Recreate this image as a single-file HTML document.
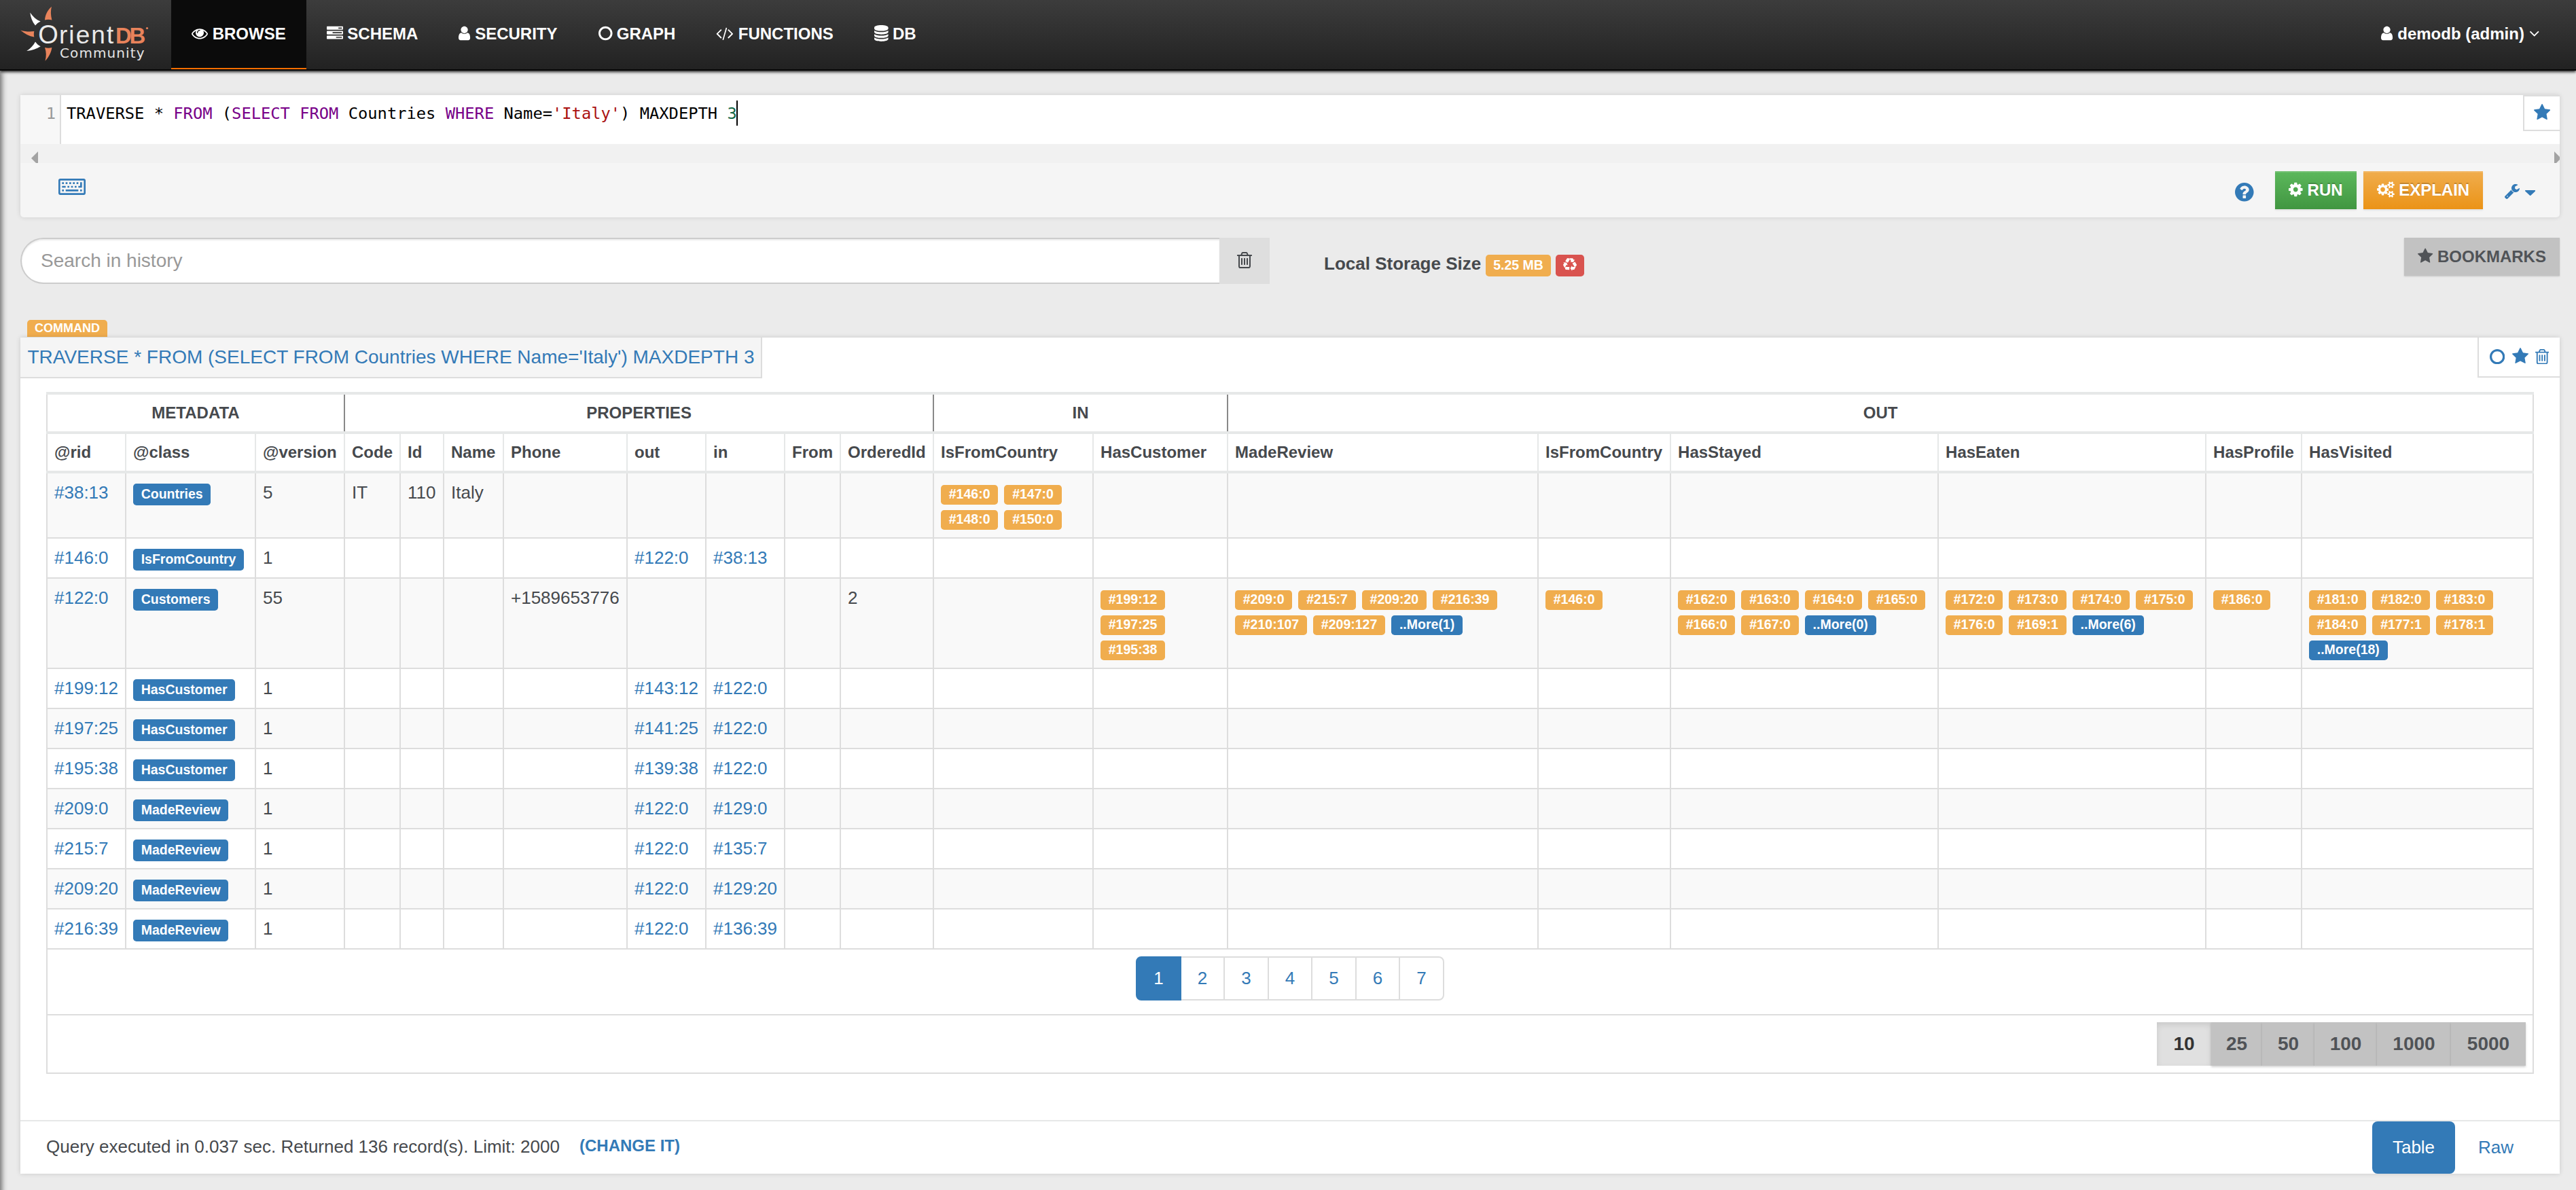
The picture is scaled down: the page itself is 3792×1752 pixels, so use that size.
<!DOCTYPE html>
<html lang="en">
<head>
<meta charset="utf-8">
<title>OrientDB Studio</title>
<style>
*{box-sizing:border-box}
html,body{margin:0;padding:0}
body{width:3792px;height:1752px;overflow:hidden;background:#ebebeb;color:#46494d;
 font-family:"Liberation Sans",sans-serif;font-size:26px;line-height:1.42857143;position:relative}
a{color:#337ab7;text-decoration:none}
.fa{display:inline-block;height:1em;vertical-align:-0.142857em;fill:currentColor;overflow:visible}
.abs{position:absolute}
/* ---------- navbar ---------- */
#nav{position:absolute;left:0;top:0;width:3792px;height:104px;border-bottom:2px solid #080808;
 background:linear-gradient(to bottom,#3c3c3c 0,#222 100%);box-shadow:0 2px 4px rgba(0,0,0,.85);z-index:10}
#nav ul{list-style:none;margin:0;padding:0;position:absolute;top:0;height:102px}
#nav ul.l{left:252px}
#nav ul.r{right:24px}
#nav li{float:left;height:102px}
#nav li a{display:block;height:102px;padding:30px 30px 0 30px;line-height:40px;font-size:24px;font-weight:bold;color:#fff;white-space:nowrap}
#nav li.active a{background:#0b0b0b;border-bottom:2px solid #ff6f00}
#logo{position:absolute;left:0;top:0;width:252px;height:100px}
#logo .t0{position:absolute;left:56.2px;top:25.7px;font-size:38px;line-height:50px;color:#ececec}
#logo .t1{position:absolute;left:87px;top:26.5px;font-size:37px;line-height:50px;color:#e9e9e9;letter-spacing:2.05px;white-space:nowrap}
#logo .t2{position:absolute;left:170px;top:27.8px;font-size:33px;line-height:50px;font-weight:bold;color:#e8835b;letter-spacing:-3.4px;white-space:nowrap}
#logo .t3{position:absolute;left:88px;top:62.8px;font-family:"DejaVu Sans","Liberation Sans",sans-serif;font-size:20px;line-height:30px;color:#e4e4e4;letter-spacing:1.1px;white-space:nowrap}
#lsh{position:absolute;left:-20px;top:106px;width:20px;height:1700px;box-shadow:0 0 8px 2px rgba(0,0,0,.62);z-index:5}
/* ---------- editor ---------- */
#ed{position:absolute;left:30px;top:140px;width:3738px;height:180px;background:#f5f5f5;border-radius:0 0 5px 5px;
 box-shadow:0 0 7px rgba(0,0,0,.13)}
#cm{position:absolute;left:0;top:0;width:3738px;height:72px;background:#fff}
#gut{position:absolute;left:0;top:0;width:60px;height:72px;background:#f7f7f7;border-right:2px solid #ddd}
#ln{position:absolute;left:0;top:9px;width:52px;text-align:right;color:#999}
.mono{font-family:"DejaVu Sans Mono","Liberation Mono",monospace;font-size:23.75px;line-height:37px;white-space:pre}
#code{position:absolute;left:68px;top:9px;color:#000}
.k{color:#708}.s{color:#a11}.n{color:#164}
#cur{position:absolute;left:1054px;top:8px;width:2px;height:37px;background:#000}
#hs{position:absolute;left:0;top:72px;width:3738px;height:28px;background:#f1f1f1;overflow:hidden}
#hs i{position:absolute;top:11px;width:0;height:0;border:10px solid transparent}
#star{position:absolute;left:3684px;top:0;width:54px;height:53px;background:#fff;border-left:2px solid #ddd;border-bottom:2px solid #ddd;border-top:2px solid #ddd}
.btn{position:absolute;top:112px;height:56px;line-height:56px;color:#fff;font-size:24px;font-weight:bold;text-align:center;white-space:nowrap;
 text-shadow:0 -2px 0 rgba(0,0,0,.2);box-shadow:inset 0 2px 0 rgba(255,255,255,.15),0 2px 2px rgba(0,0,0,.075);border:0}
#run{left:3319px;width:120px;background:linear-gradient(to bottom,#5cb85c 0,#419641 100%)}
#exp{left:3449px;width:176px;background:linear-gradient(to bottom,#f0ad4e 0,#eb9316 100%)}
/* ---------- search row ---------- */
#srch{position:absolute;left:30px;top:350px;width:1765px;height:68px;background:#fff;border:2px solid #ccc;border-right:0;border-radius:34px 0 0 34px;
 box-shadow:inset 0 2px 2px rgba(0,0,0,.075);font-size:28px;line-height:64px;padding-left:28px;color:#999}
#sadd{position:absolute;left:1795px;top:350px;width:74px;height:68px;background:#dedede}
#lss{position:absolute;left:1949px;top:368px;font-weight:bold;line-height:40px;white-space:nowrap;color:#46494d}
.lab{display:inline-block;font-size:19.5px;line-height:1;font-weight:bold;color:#fff;padding:.2em .6em .3em;border-radius:.25em;white-space:nowrap;vertical-align:baseline;text-align:center}
.lw{background:#f0ad4e}.lp{background:#337ab7}.ld{background:#d9534f}
#bm{position:absolute;left:3539px;top:350px;width:229px;height:56px;background:#c2c2c2;color:#505357;font-size:24px;font-weight:bold;line-height:56px;text-align:center;
 box-shadow:0 1px 2px rgba(0,0,0,.16);white-space:nowrap}
/* ---------- results ---------- */
#cmdl{position:absolute;left:40px;top:471px;width:118px;height:25px;background:#f0ad4e;color:#fff;font-size:18px;font-weight:bold;line-height:25px;text-align:center;border-radius:5px 5px 0 0}
#res{position:absolute;left:30px;top:497px;width:3738px;height:1231px;background:#fff;box-shadow:0 0 7px rgba(0,0,0,.14)}
#qt{position:absolute;left:0;top:0;width:1092px;height:60px;background:#f5f5f5;border-right:2px solid #ddd;border-bottom:2px solid #ddd;font-size:28px;line-height:57px;padding-left:10.5px;white-space:nowrap}
#tools{position:absolute;left:3617px;top:0;width:121px;height:59px;border-left:2px solid #ddd;border-bottom:2px solid #ddd;background:#fff}
#tw{position:absolute;left:38px;top:80px;width:3662px}
table{border-collapse:collapse;border-spacing:0;table-layout:fixed;width:3662px;background:#fff}
td,th{padding:10px;vertical-align:top;text-align:left;border:2px solid #ddd;font-weight:normal;overflow:hidden}
thead th{font-size:24px;line-height:34px;font-weight:bold;border-bottom:4px solid #e6e8e8;vertical-align:bottom;color:#46494d}
thead tr.g th{text-align:center;border-left-color:#777;border-right-color:#777}
thead tr.g th:first-child{border-left-color:#ddd}
thead tr.g th:last-child{border-right-color:#ddd}
thead tr.g th{border-top:4px solid #e6e8e8}
thead tr.h th{border-left-color:#e6e8e8;border-right-color:#e6e8e8}
thead tr.h th:first-child{border-left-color:#ddd}
thead tr.h th:last-child{border-right-color:#ddd}
tbody tr:nth-child(odd) td{background:#f9f9f9}
tbody td{white-space:nowrap;line-height:37px}
.lab.cl{display:inline}
tbody .lab{margin-right:9.3px}
tfoot td{background:#fff;padding:0}
tfoot td.pgr{height:97px;text-align:center;padding-top:10px}
tfoot td.psr{height:86px}
.sep{position:absolute;top:4px;width:2px;height:54px;background:#888}
.pg{display:inline-block;margin:0;padding:0;list-style:none;vertical-align:top;border-radius:8px}
.pg li{float:left;height:65px;line-height:61px;padding:0 24px;border:2px solid #ddd;margin-left:-2px;color:#337ab7;background:#fff;min-width:66.5px;text-align:center}
.pg li:first-child{position:relative;z-index:2;margin-left:0;border-radius:8px 0 0 8px;background:#337ab7;border-color:#337ab7;color:#fff}
.pg li:last-child{border-radius:0 8px 8px 0}
.ps{position:absolute;top:928px;height:64px;line-height:64px;font-size:28px;font-weight:bold;color:#505357;background:#c2c2c2;text-align:center;box-shadow:0 2px 3px rgba(0,0,0,.18)}
#ft{position:absolute;left:0;top:1152px;width:3738px;height:79px;border-top:2px solid #e6e8e8}
#ft .q{position:absolute;left:38px;top:18.5px;line-height:37px;white-space:nowrap}
#ft .c{position:absolute;left:823px;top:19px;font-size:24px;font-weight:bold;line-height:34px;white-space:nowrap}
#tb{position:absolute;left:3462px;top:0px;width:122px;height:77px;background:#337ab7;color:#fff;border-radius:8px;line-height:77px;text-align:center}
#raw{position:absolute;left:3618px;top:0px;line-height:77px}
</style>
</head>
<body>
<div id="nav">
 <div id="logo">
  <svg class="abs" style="left:24px;top:4px" width="70" height="92" viewBox="24 4 70 92">
   <path d="M75.9 9.8 C70 15 66.5 22 66 29.5 C69 28.6 73 28.6 76.4 29.5 C74.5 22 74.5 16 75.9 9.8Z" fill="#e8835b"/>
   <path d="M44.3 18.4 C45 25 47.5 32 52 37.6 C54 35 56.5 33 59.7 31.6 C53.5 29 48.5 24.5 44.3 18.4Z" fill="#fff"/>
   <path d="M30.2 44.4 C36 49.5 43 53 50.3 54.6 C49.7 51.8 49.7 48.8 50.3 46 C43.5 47 37 46.5 30.2 44.4Z" fill="#e8835b"/>
   <path d="M39.2 75.1 C47 74.5 54 72 59.7 68.3 C56.5 66.8 54 64.4 52 61.5 C49 67 44.8 71.5 39.2 75.1Z" fill="#fff"/>
   <path d="M66.5 89.7 C72 84 75.5 77 76.4 70 C73 70.9 69.5 70.9 66 70 C68.3 76.5 68.3 83 66.5 89.7Z" fill="#e8835b"/>
  </svg>
  <span class="t0">O</span><span class="t1">rient</span><span class="t2">DB</span>
  <svg class="abs" style="left:214px;top:39px" width="5" height="5"><circle cx="2.5" cy="2.5" r="1.6" fill="#e8835b"/></svg>
  <span class="t3">Community</span>
 </div>
 <ul class="l">
  <li class="active"><a><svg class="fa" viewBox="0 -1536 1792 1792" style="width:1.0000em"><path d="M1664 -576C1493 -312 1217 -128 896 -128C575 -128 299 -312 128 -576C223 -723 353 -849 509 -929C469 -861 448 -783 448 -704C448 -457 649 -256 896 -256C1143 -256 1344 -457 1344 -704C1344 -783 1323 -861 1283 -929C1439 -849 1569 -723 1664 -576ZM944 -960C944 -934 922 -912 896 -912C782 -912 688 -818 688 -704C688 -678 666 -656 640 -656C614 -656 592 -678 592 -704C592 -871 729 -1008 896 -1008C922 -1008 944 -986 944 -960ZM1792 -576C1792 -601 1784 -624 1772 -645C1588 -947 1251 -1152 896 -1152C541 -1152 204 -947 20 -645C8 -624 0 -601 0 -576C0 -551 8 -528 20 -507C204 -205 541 0 896 0C1251 0 1588 -204 1772 -507C1784 -528 1792 -551 1792 -576Z"/></svg> BROWSE</a></li>
  <li><a><svg class="fa" viewBox="0 -1536 1792 1792" style="width:1.0000em"><path d="M1024 -128V-256H1664V-128ZM640 -640V-768H1664V-640ZM1280 -1152V-1280H1664V-1152ZM1792 -320C1792 -355 1763 -384 1728 -384H64C29 -384 0 -355 0 -320V-64C0 -29 29 0 64 0H1728C1763 0 1792 -29 1792 -64ZM1792 -832C1792 -867 1763 -896 1728 -896H64C29 -896 0 -867 0 -832V-576C0 -541 29 -512 64 -512H1728C1763 -512 1792 -541 1792 -576ZM1792 -1344C1792 -1379 1763 -1408 1728 -1408H64C29 -1408 0 -1379 0 -1344V-1088C0 -1053 29 -1024 64 -1024H1728C1763 -1024 1792 -1053 1792 -1088Z"/></svg> SCHEMA</a></li>
  <li><a><svg class="fa" viewBox="0 -1536 1280 1792" style="width:0.7143em"><path d="M1280 -137C1280 -400 1215 -704 953 -704C872 -625 762 -576 640 -576C518 -576 408 -625 327 -704C65 -704 0 -400 0 -137C0 9 96 128 213 128H1067C1184 128 1280 9 1280 -137ZM1024 -1024C1024 -1236 852 -1408 640 -1408C428 -1408 256 -1236 256 -1024C256 -812 428 -640 640 -640C852 -640 1024 -812 1024 -1024Z"/></svg> SECURITY</a></li>
  <li><a><svg class="fa" viewBox="0 -1536 1536 1792" style="width:0.8571em"><path d="M768 -1184C1068 -1184 1312 -940 1312 -640C1312 -340 1068 -96 768 -96C468 -96 224 -340 224 -640C224 -940 468 -1184 768 -1184ZM1536 -640C1536 -1064 1192 -1408 768 -1408C344 -1408 0 -1064 0 -640C0 -216 344 128 768 128C1192 128 1536 -216 1536 -640Z"/></svg> GRAPH</a></li>
  <li><a><svg class="fa" viewBox="0 -1536 1920 1792" style="width:1.0714em"><path d="M617 -137C630 -150 630 -170 617 -183L224 -576L617 -969C630 -982 630 -1002 617 -1015L567 -1065C554 -1078 534 -1078 521 -1065L55 -599C42 -586 42 -566 55 -553L521 -87C534 -74 554 -74 567 -87L617 -137ZM1208 -1204C1213 -1221 1203 -1239 1186 -1244L1124 -1261C1108 -1266 1090 -1256 1085 -1239L712 52C707 69 717 87 734 92L796 109C812 114 830 104 835 87L1208 -1204ZM1865 -553C1878 -566 1878 -586 1865 -599L1399 -1065C1386 -1078 1366 -1078 1353 -1065L1303 -1015C1290 -1002 1290 -982 1303 -969L1696 -576L1303 -183C1290 -170 1290 -150 1303 -137L1353 -87C1366 -74 1386 -74 1399 -87L1865 -553Z"/></svg> FUNCTIONS</a></li>
  <li><a><svg class="fa" viewBox="0 -1536 1536 1792" style="width:0.8571em"><path d="M768 -768C467 -768 165 -822 0 -938V-768C0 -627 344 -512 768 -512C1192 -512 1536 -627 1536 -768V-938C1371 -822 1069 -768 768 -768ZM768 0C467 0 165 -54 0 -170V0C0 141 344 256 768 256C1192 256 1536 141 1536 0V-170C1371 -54 1069 0 768 0ZM768 -384C467 -384 165 -438 0 -554V-384C0 -243 344 -128 768 -128C1192 -128 1536 -243 1536 -384V-554C1371 -438 1069 -384 768 -384ZM768 -1536C344 -1536 0 -1421 0 -1280V-1152C0 -1011 344 -896 768 -896C1192 -896 1536 -1011 1536 -1152V-1280C1536 -1421 1192 -1536 768 -1536Z"/></svg> DB</a></li>
 </ul>
 <ul class="r">
  <li><a><svg class="fa" viewBox="0 -1536 1280 1792" style="width:0.7143em"><path d="M1280 -137C1280 -400 1215 -704 953 -704C872 -625 762 -576 640 -576C518 -576 408 -625 327 -704C65 -704 0 -400 0 -137C0 9 96 128 213 128H1067C1184 128 1280 9 1280 -137ZM1024 -1024C1024 -1236 852 -1408 640 -1408C428 -1408 256 -1236 256 -1024C256 -812 428 -640 640 -640C852 -640 1024 -812 1024 -1024Z"/></svg> demodb (admin) <svg class="fa" viewBox="0 -1536 1152 1792" style="width:0.6429em"><path d="M1075 -800C1075 -808 1071 -817 1065 -823L1015 -873C1009 -879 1000 -883 992 -883C984 -883 975 -879 969 -873L576 -480L183 -873C177 -879 168 -883 160 -883C151 -883 143 -879 137 -873L87 -823C81 -817 77 -808 77 -800C77 -792 81 -783 87 -777L553 -311C559 -305 568 -301 576 -301C584 -301 593 -305 599 -311L1065 -777C1071 -783 1075 -792 1075 -800Z"/></svg></a></li>
 </ul>
</div>
<div id="lsh"></div>
<div id="ed">
 <div id="cm">
  <div id="gut"><div id="ln" class="mono">1</div></div>
  <div id="code" class="mono">TRAVERSE * <span class="k">FROM</span> (<span class="k">SELECT</span> <span class="k">FROM</span> Countries <span class="k">WHERE</span> Name=<span class="s">'Italy'</span>) MAXDEPTH <span class="n">3</span></div>
  <div id="cur"></div>
 </div>
 <div id="hs"><i style="left:6px;border-right-color:#a3a3a3"></i><i style="left:3730px;border-left-color:#a3a3a3"></i></div>
 <div id="star"><svg class="abs" style="left:13.8px;top:11px" width="24.2" height="23.2" viewBox="0.0 -1504.0 1664.0 1587.0" preserveAspectRatio="none" fill="#337ab7"><path d="M1664 -889C1664 -919 1632 -931 1608 -935L1106 -1008L881 -1463C872 -1482 855 -1504 832 -1504C809 -1504 792 -1482 783 -1463L558 -1008L56 -935C31 -931 0 -919 0 -889C0 -871 13 -854 25 -841L389 -487L303 13C302 20 301 26 301 33C301 59 314 83 343 83C357 83 370 78 383 71L832 -165L1281 71C1293 78 1307 83 1321 83C1350 83 1362 59 1362 33C1362 26 1362 20 1361 13L1275 -487L1638 -841C1651 -854 1664 -871 1664 -889Z"/></svg></div>
 <svg class="abs" style="left:56px;top:123px" width="40" height="24" viewBox="0.0 -1152.0 1920.0 1152.0" preserveAspectRatio="none" fill="#337ab7"><path d="M384 -368C384 -377 377 -384 368 -384H272C263 -384 256 -377 256 -368V-272C256 -263 263 -256 272 -256H368C377 -256 384 -263 384 -272ZM512 -624C512 -633 505 -640 496 -640H272C263 -640 256 -633 256 -624V-528C256 -519 263 -512 272 -512H496C505 -512 512 -519 512 -528ZM384 -880C384 -889 377 -896 368 -896H272C263 -896 256 -889 256 -880V-784C256 -775 263 -768 272 -768H368C377 -768 384 -775 384 -784ZM1408 -368C1408 -377 1401 -384 1392 -384H528C519 -384 512 -377 512 -368V-272C512 -263 519 -256 528 -256H1392C1401 -256 1408 -263 1408 -272ZM768 -624C768 -633 761 -640 752 -640H656C647 -640 640 -633 640 -624V-528C640 -519 647 -512 656 -512H752C761 -512 768 -519 768 -528ZM640 -880C640 -889 633 -896 624 -896H528C519 -896 512 -889 512 -880V-784C512 -775 519 -768 528 -768H624C633 -768 640 -775 640 -784ZM1024 -624C1024 -633 1017 -640 1008 -640H912C903 -640 896 -633 896 -624V-528C896 -519 903 -512 912 -512H1008C1017 -512 1024 -519 1024 -528ZM896 -880C896 -889 889 -896 880 -896H784C775 -896 768 -889 768 -880V-784C768 -775 775 -768 784 -768H880C889 -768 896 -775 896 -784ZM1280 -624C1280 -633 1273 -640 1264 -640H1168C1159 -640 1152 -633 1152 -624V-528C1152 -519 1159 -512 1168 -512H1264C1273 -512 1280 -519 1280 -528ZM1664 -368C1664 -377 1657 -384 1648 -384H1552C1543 -384 1536 -377 1536 -368V-272C1536 -263 1543 -256 1552 -256H1648C1657 -256 1664 -263 1664 -272ZM1152 -880C1152 -889 1145 -896 1136 -896H1040C1031 -896 1024 -889 1024 -880V-784C1024 -775 1031 -768 1040 -768H1136C1145 -768 1152 -775 1152 -784ZM1408 -880C1408 -889 1401 -896 1392 -896H1296C1287 -896 1280 -889 1280 -880V-784C1280 -775 1287 -768 1296 -768H1392C1401 -768 1408 -775 1408 -784ZM1664 -880C1664 -889 1657 -896 1648 -896H1552C1543 -896 1536 -889 1536 -880V-640H1424C1415 -640 1408 -633 1408 -624V-528C1408 -519 1415 -512 1424 -512H1648C1657 -512 1664 -519 1664 -528ZM1792 -128H128V-1024H1792ZM1920 -1024C1920 -1095 1863 -1152 1792 -1152H128C57 -1152 0 -1095 0 -1024V-128C0 -57 57 0 128 0H1792C1863 0 1920 -57 1920 -128Z"/></svg>
 <svg class="abs" style="left:3260px;top:129px" width="27.6" height="27.6" viewBox="0.0 -1408.0 1536.0 1536.0" preserveAspectRatio="none" fill="#337ab7"><path d="M896 -160C896 -142 882 -128 864 -128H672C654 -128 640 -142 640 -160V-352C640 -370 654 -384 672 -384H864C882 -384 896 -370 896 -352V-160ZM1152 -832C1152 -680 1048 -622 972 -579C925 -552 896 -503 896 -480C896 -462 882 -448 864 -448H672C654 -448 640 -462 640 -480V-516C640 -613 737 -696 808 -728C869 -756 896 -782 896 -834C896 -878 837 -919 773 -919C737 -919 704 -907 687 -895C668 -881 648 -863 601 -803C595 -795 585 -791 576 -791C569 -791 562 -793 557 -797L425 -897C412 -907 408 -925 417 -939C503 -1082 625 -1152 788 -1152C960 -1152 1152 -1015 1152 -832ZM1536 -640C1536 -1064 1192 -1408 768 -1408C344 -1408 0 -1064 0 -640C0 -216 344 128 768 128C1192 128 1536 -216 1536 -640Z"/></svg>
 <div id="run" class="btn"><svg class="fa" viewBox="0 -1536 1536 1792" style="width:0.8571em"><path d="M1024 -640C1024 -499 909 -384 768 -384C627 -384 512 -499 512 -640C512 -781 627 -896 768 -896C909 -896 1024 -781 1024 -640ZM1536 -749C1536 -766 1524 -782 1507 -785L1324 -813C1314 -846 1300 -879 1283 -911C1317 -958 1354 -1002 1388 -1048C1393 -1055 1396 -1062 1396 -1071C1396 -1079 1394 -1087 1389 -1093C1347 -1152 1277 -1214 1224 -1263C1217 -1269 1208 -1273 1199 -1273C1190 -1273 1181 -1270 1175 -1264L1033 -1157C1004 -1172 974 -1184 943 -1194L915 -1378C913 -1395 897 -1408 879 -1408H657C639 -1408 625 -1396 621 -1380C605 -1320 599 -1255 592 -1194C561 -1184 530 -1171 501 -1156L363 -1263C355 -1269 346 -1273 337 -1273C303 -1273 168 -1127 144 -1094C139 -1087 135 -1080 135 -1071C135 -1062 139 -1054 145 -1047C182 -1002 218 -957 252 -909C236 -879 223 -849 213 -817L27 -789C12 -786 0 -768 0 -753V-531C0 -514 12 -498 29 -495L212 -468C222 -434 236 -401 253 -369C219 -322 182 -278 148 -232C143 -225 140 -218 140 -209C140 -201 142 -193 147 -186C189 -128 259 -66 312 -18C319 -11 328 -7 337 -7C346 -7 355 -10 362 -16L503 -123C532 -108 562 -96 593 -86L621 98C623 115 639 128 657 128H879C897 128 911 116 915 100C931 40 937 -25 944 -86C975 -96 1006 -109 1035 -124L1173 -16C1181 -11 1190 -7 1199 -7C1233 -7 1368 -154 1392 -186C1398 -193 1401 -200 1401 -209C1401 -218 1397 -227 1391 -234C1354 -279 1318 -323 1284 -372C1300 -401 1312 -431 1323 -463L1508 -491C1524 -494 1536 -512 1536 -527Z"/></svg> RUN</div>
 <div id="exp" class="btn"><svg class="fa" viewBox="0 -1536 1920 1792" style="width:1.0714em"><path d="M896 -640C896 -499 781 -384 640 -384C499 -384 384 -499 384 -640C384 -781 499 -896 640 -896C781 -896 896 -781 896 -640ZM1664 -128C1664 -58 1607 0 1536 0C1466 0 1408 -57 1408 -128C1408 -198 1466 -256 1536 -256C1606 -256 1664 -198 1664 -128ZM1664 -1152C1664 -1082 1607 -1024 1536 -1024C1466 -1024 1408 -1081 1408 -1152C1408 -1222 1466 -1280 1536 -1280C1606 -1280 1664 -1222 1664 -1152ZM1280 -731C1280 -745 1270 -758 1256 -761L1104 -784C1095 -812 1083 -839 1070 -866C1098 -905 1128 -941 1157 -980C1161 -986 1164 -992 1164 -999C1164 -1027 1046 -1135 1020 -1159C1014 -1164 1007 -1167 999 -1167C992 -1167 985 -1165 979 -1160L861 -1071C837 -1083 812 -1094 786 -1102L763 -1255C761 -1269 747 -1280 733 -1280H547C533 -1280 521 -1270 517 -1256C504 -1207 499 -1152 494 -1102C467 -1093 442 -1083 417 -1070L302 -1160C296 -1164 289 -1167 281 -1167C252 -1167 140 -1046 120 -1019C115 -1013 113 -1006 113 -999C113 -992 116 -985 120 -979C152 -941 182 -904 210 -864C197 -839 186 -814 178 -788L23 -764C10 -762 0 -747 0 -734V-549C0 -535 10 -522 24 -520L176 -496C185 -468 197 -441 211 -414C182 -375 152 -338 123 -300C119 -294 116 -288 116 -281C116 -252 234 -145 260 -121C266 -116 273 -113 281 -113C288 -113 296 -115 301 -120L419 -209C443 -197 468 -186 494 -178L517 -25C519 -11 533 0 547 0H733C747 0 759 -10 763 -24C776 -73 781 -128 786 -179C813 -187 838 -197 863 -210L978 -120C984 -116 991 -113 999 -113C1028 -113 1140 -235 1160 -262C1165 -267 1167 -274 1167 -281C1167 -289 1164 -295 1160 -301C1128 -339 1098 -376 1070 -416C1083 -441 1094 -466 1102 -492L1257 -516C1270 -518 1280 -533 1280 -546ZM1920 -198C1920 -213 1791 -227 1771 -229C1763 -247 1753 -265 1741 -281C1750 -301 1792 -401 1792 -419C1792 -421 1791 -424 1788 -426C1776 -433 1669 -496 1664 -496L1658 -494C1624 -460 1594 -421 1566 -382C1556 -383 1546 -384 1536 -384C1526 -384 1516 -383 1506 -382C1496 -397 1421 -496 1408 -496C1403 -496 1296 -432 1284 -426C1281 -424 1280 -421 1280 -419C1280 -402 1322 -301 1331 -281C1319 -265 1309 -247 1301 -229C1281 -227 1152 -213 1152 -198V-58C1152 -43 1281 -29 1301 -27C1309 -8 1319 9 1331 25C1322 45 1280 146 1280 163C1280 165 1281 168 1284 170C1296 177 1403 241 1408 241C1421 241 1496 141 1506 126C1516 127 1526 128 1536 128C1546 128 1556 127 1566 126C1576 141 1651 241 1664 241C1669 241 1776 177 1788 170C1791 168 1792 166 1792 163C1792 145 1750 45 1741 25C1753 9 1763 -8 1771 -27C1791 -29 1920 -43 1920 -58ZM1920 -1222C1920 -1237 1791 -1251 1771 -1253C1763 -1271 1753 -1289 1741 -1305C1750 -1325 1792 -1425 1792 -1443C1792 -1445 1791 -1448 1788 -1450C1776 -1457 1669 -1520 1664 -1520L1658 -1518C1624 -1484 1594 -1445 1566 -1406C1556 -1407 1546 -1408 1536 -1408C1526 -1408 1516 -1407 1506 -1406C1496 -1421 1421 -1520 1408 -1520C1403 -1520 1296 -1456 1284 -1450C1281 -1448 1280 -1445 1280 -1443C1280 -1426 1322 -1325 1331 -1305C1319 -1289 1309 -1271 1301 -1253C1281 -1251 1152 -1237 1152 -1222V-1082C1152 -1067 1281 -1053 1301 -1051C1309 -1032 1319 -1015 1331 -999C1322 -979 1280 -878 1280 -861C1280 -859 1281 -856 1284 -854C1296 -847 1403 -783 1408 -783C1421 -783 1496 -883 1506 -898C1516 -897 1526 -896 1536 -896C1546 -896 1556 -897 1566 -898C1576 -883 1651 -783 1664 -783C1669 -783 1776 -847 1788 -854C1791 -856 1792 -858 1792 -861C1792 -879 1750 -979 1741 -999C1753 -1015 1763 -1032 1771 -1051C1791 -1053 1920 -1067 1920 -1082Z"/></svg> EXPLAIN</div>
 <svg class="abs" style="left:3657px;top:131px" width="22" height="22" viewBox="21.0 -1408.0 1641.0 1643.0" preserveAspectRatio="none" fill="#337ab7"><path d="M384 -64C384 -29 355 0 320 0C285 0 256 -29 256 -64C256 -99 285 -128 320 -128C355 -128 384 -99 384 -64ZM1028 -484C897 -536 792 -641 740 -772L59 -91C35 -67 21 -34 21 0C21 34 35 67 59 90L165 198C189 221 222 235 256 235C290 235 323 221 346 198L1028 -484ZM1662 -919C1662 -939 1650 -954 1630 -954C1610 -954 1378 -808 1345 -789L1152 -896V-1120L1445 -1289C1454 -1295 1461 -1306 1461 -1317C1461 -1329 1455 -1338 1445 -1345C1384 -1386 1289 -1408 1216 -1408C969 -1408 768 -1207 768 -960C768 -713 969 -512 1216 -512C1405 -512 1576 -635 1639 -813C1650 -845 1662 -886 1662 -919Z"/></svg>
 <svg class="abs" style="left:3686.6px;top:140px" width="15.4" height="8" viewBox="0.0 -896.0 1024.0 576.0" preserveAspectRatio="none" fill="#337ab7"><path d="M1024 -832C1024 -867 995 -896 960 -896H64C29 -896 0 -867 0 -832C0 -815 7 -799 19 -787L467 -339C479 -327 495 -320 512 -320C529 -320 545 -327 557 -339L1005 -787C1017 -799 1024 -815 1024 -832Z"/></svg>
</div>
<div id="srch">Search in history</div>
<div id="sadd"><svg class="abs" style="left:25.9px;top:21px" width="22" height="24" viewBox="0.0 -1408.0 1408.0 1536.0" preserveAspectRatio="none" fill="#46494d"><path d="M512 -800C512 -818 498 -832 480 -832H416C398 -832 384 -818 384 -800V-224C384 -206 398 -192 416 -192H480C498 -192 512 -206 512 -224ZM768 -800C768 -818 754 -832 736 -832H672C654 -832 640 -818 640 -800V-224C640 -206 654 -192 672 -192H736C754 -192 768 -206 768 -224ZM1024 -800C1024 -818 1010 -832 992 -832H928C910 -832 896 -818 896 -800V-224C896 -206 910 -192 928 -192H992C1010 -192 1024 -206 1024 -224ZM1152 -76C1152 -28 1125 0 1120 0H288C283 0 256 -28 256 -76V-1024H1152V-76ZM480 -1152 529 -1269C532 -1273 540 -1279 546 -1280H863C868 -1279 877 -1273 880 -1269L928 -1152ZM1408 -1120C1408 -1138 1394 -1152 1376 -1152H1067L997 -1319C977 -1368 917 -1408 864 -1408H544C491 -1408 431 -1368 411 -1319L341 -1152H32C14 -1152 0 -1138 0 -1120V-1056C0 -1038 14 -1024 32 -1024H128V-72C128 38 200 128 288 128H1120C1208 128 1280 34 1280 -76V-1024H1376C1394 -1024 1408 -1038 1408 -1056Z"/></svg></div>
<div id="lss">Local Storage Size <span class="lab lw" style="position:absolute;left:238px;top:7px;width:96px;height:32px;padding:0;line-height:31px">5.25 MB</span><span class="lab ld" style="position:absolute;left:341px;top:7px;width:42px;height:32px;padding:0"><svg class="abs" style="left:11px;top:5px" width="20" height="19" viewBox="16.0 -1535.9 1760.0 1705.9" preserveAspectRatio="none" fill="#fff"><path d="M836 -367C404 -383 327 -395 327 -395C297 -306 245 -196 285 -103C304 -59 347 -10 399 -6L819 23L821 1L836 -367ZM449 -953 16 -970 156 -884C77 -759 42 -696 42 -696C42 -696 7 -633 46 -575L236 -218C236 -218 257 -409 482 -666L629 -574ZM1680 -436C1680 -436 1510 -345 1171 -386L1164 -559L953 -197L1183 170L1175 6C1323 1 1394 -6 1394 -6C1394 -6 1466 -12 1492 -77L1680 -436ZM895 -1360C831 -1429 759 -1526 659 -1535C610 -1540 547 -1524 519 -1480L294 -1124L313 -1112L630 -925C848 -1298 895 -1360 895 -1360ZM1550 -1053 1531 -1042 1218 -847C1449 -482 1483 -411 1483 -411C1573 -436 1693 -456 1747 -540C1773 -582 1789 -645 1762 -690ZM1407 -1279C1334 -1408 1295 -1469 1295 -1469C1295 -1469 1257 -1529 1187 -1523L782 -1524C782 -1524 941 -1414 1061 -1095L910 -1009L1329 -989L1549 -1362Z"/></svg></span></div>
<div id="bm"><svg class="fa" viewBox="0 -1536 1664 1792" style="width:0.9286em"><path d="M1664 -889C1664 -919 1632 -931 1608 -935L1106 -1008L881 -1463C872 -1482 855 -1504 832 -1504C809 -1504 792 -1482 783 -1463L558 -1008L56 -935C31 -931 0 -919 0 -889C0 -871 13 -854 25 -841L389 -487L303 13C302 20 301 26 301 33C301 59 314 83 343 83C357 83 370 78 383 71L832 -165L1281 71C1293 78 1307 83 1321 83C1350 83 1362 59 1362 33C1362 26 1362 20 1361 13L1275 -487L1638 -841C1651 -854 1664 -871 1664 -889Z"/></svg> BOOKMARKS</div>
<div id="cmdl">COMMAND</div>
<div id="res">
 <div id="qt"><a>TRAVERSE * FROM (SELECT FROM Countries WHERE Name='Italy') MAXDEPTH 3</a></div>
 <div id="tools"><svg class="abs" style="left:16.2px;top:16.7px" width="22.3" height="22.3" viewBox="0.0 -1408.0 1536.0 1536.0" preserveAspectRatio="none" fill="#337ab7"><path d="M768 -1184C1068 -1184 1312 -940 1312 -640C1312 -340 1068 -96 768 -96C468 -96 224 -340 224 -640C224 -940 468 -1184 768 -1184ZM1536 -640C1536 -1064 1192 -1408 768 -1408C344 -1408 0 -1064 0 -640C0 -216 344 128 768 128C1192 128 1536 -216 1536 -640Z"/></svg><svg class="abs" style="left:48.7px;top:15px" width="24.1" height="23" viewBox="0.0 -1504.0 1664.0 1587.0" preserveAspectRatio="none" fill="#337ab7"><path d="M1664 -889C1664 -919 1632 -931 1608 -935L1106 -1008L881 -1463C872 -1482 855 -1504 832 -1504C809 -1504 792 -1482 783 -1463L558 -1008L56 -935C31 -931 0 -919 0 -889C0 -871 13 -854 25 -841L389 -487L303 13C302 20 301 26 301 33C301 59 314 83 343 83C357 83 370 78 383 71L832 -165L1281 71C1293 78 1307 83 1321 83C1350 83 1362 59 1362 33C1362 26 1362 20 1361 13L1275 -487L1638 -841C1651 -854 1664 -871 1664 -889Z"/></svg><svg class="abs" style="left:82.6px;top:16.8px" width="20.4" height="22.3" viewBox="0.0 -1408.0 1408.0 1536.0" preserveAspectRatio="none" fill="#337ab7"><path d="M512 -800C512 -818 498 -832 480 -832H416C398 -832 384 -818 384 -800V-224C384 -206 398 -192 416 -192H480C498 -192 512 -206 512 -224ZM768 -800C768 -818 754 -832 736 -832H672C654 -832 640 -818 640 -800V-224C640 -206 654 -192 672 -192H736C754 -192 768 -206 768 -224ZM1024 -800C1024 -818 1010 -832 992 -832H928C910 -832 896 -818 896 -800V-224C896 -206 910 -192 928 -192H992C1010 -192 1024 -206 1024 -224ZM1152 -76C1152 -28 1125 0 1120 0H288C283 0 256 -28 256 -76V-1024H1152V-76ZM480 -1152 529 -1269C532 -1273 540 -1279 546 -1280H863C868 -1279 877 -1273 880 -1269L928 -1152ZM1408 -1120C1408 -1138 1394 -1152 1376 -1152H1067L997 -1319C977 -1368 917 -1408 864 -1408H544C491 -1408 431 -1368 411 -1319L341 -1152H32C14 -1152 0 -1138 0 -1120V-1056C0 -1038 14 -1024 32 -1024H128V-72C128 38 200 128 288 128H1120C1208 128 1280 34 1280 -76V-1024H1376C1394 -1024 1408 -1038 1408 -1056Z"/></svg></div>
 <div id="tw">
<table>
<colgroup>
<col style="width:116px">
<col style="width:191px">
<col style="width:131px">
<col style="width:82px">
<col style="width:64px">
<col style="width:88px">
<col style="width:182px">
<col style="width:116px">
<col style="width:116px">
<col style="width:82px">
<col style="width:137px">
<col style="width:235px">
<col style="width:198px">
<col style="width:457px">
<col style="width:195px">
<col style="width:394px">
<col style="width:394px">
<col style="width:141px">
<col style="width:341px">
</colgroup>
<thead><tr class="g"><th colspan="3">METADATA</th><th colspan="8">PROPERTIES</th><th colspan="2">IN</th><th colspan="6">OUT</th></tr>
<tr class="h"><th>@rid</th><th>@class</th><th>@version</th><th>Code</th><th>Id</th><th>Name</th><th>Phone</th><th>out</th><th>in</th><th>From</th><th>OrderedId</th><th>IsFromCountry</th><th>HasCustomer</th><th>MadeReview</th><th>IsFromCountry</th><th>HasStayed</th><th>HasEaten</th><th>HasProfile</th><th>HasVisited</th></tr></thead>
<tbody>
<tr><td><a>#38:13</a></td><td><span class="lab lp cl">Countries</span></td><td>5</td><td>IT</td><td>110</td><td>Italy</td><td></td><td></td><td></td><td></td><td></td><td><span class="lab lw">#146:0</span><span class="lab lw">#147:0</span><br><span class="lab lw">#148:0</span><span class="lab lw">#150:0</span></td><td></td><td></td><td></td><td></td><td></td><td></td><td></td></tr>
<tr><td><a>#146:0</a></td><td><span class="lab lp cl">IsFromCountry</span></td><td>1</td><td></td><td></td><td></td><td></td><td><a>#122:0</a></td><td><a>#38:13</a></td><td></td><td></td><td></td><td></td><td></td><td></td><td></td><td></td><td></td><td></td></tr>
<tr><td><a>#122:0</a></td><td><span class="lab lp cl">Customers</span></td><td>55</td><td></td><td></td><td></td><td>+1589653776</td><td></td><td></td><td></td><td>2</td><td></td><td><span class="lab lw">#199:12</span><br><span class="lab lw">#197:25</span><br><span class="lab lw">#195:38</span></td><td><span class="lab lw">#209:0</span><span class="lab lw">#215:7</span><span class="lab lw">#209:20</span><span class="lab lw">#216:39</span><br><span class="lab lw">#210:107</span><span class="lab lw">#209:127</span><span class="lab lp">..More(1)</span></td><td><span class="lab lw">#146:0</span></td><td><span class="lab lw">#162:0</span><span class="lab lw">#163:0</span><span class="lab lw">#164:0</span><span class="lab lw">#165:0</span><br><span class="lab lw">#166:0</span><span class="lab lw">#167:0</span><span class="lab lp">..More(0)</span></td><td><span class="lab lw">#172:0</span><span class="lab lw">#173:0</span><span class="lab lw">#174:0</span><span class="lab lw">#175:0</span><br><span class="lab lw">#176:0</span><span class="lab lw">#169:1</span><span class="lab lp">..More(6)</span></td><td><span class="lab lw">#186:0</span></td><td><span class="lab lw">#181:0</span><span class="lab lw">#182:0</span><span class="lab lw">#183:0</span><br><span class="lab lw">#184:0</span><span class="lab lw">#177:1</span><span class="lab lw">#178:1</span><br><span class="lab lp">..More(18)</span></td></tr>
<tr><td><a>#199:12</a></td><td><span class="lab lp cl">HasCustomer</span></td><td>1</td><td></td><td></td><td></td><td></td><td><a>#143:12</a></td><td><a>#122:0</a></td><td></td><td></td><td></td><td></td><td></td><td></td><td></td><td></td><td></td><td></td></tr>
<tr><td><a>#197:25</a></td><td><span class="lab lp cl">HasCustomer</span></td><td>1</td><td></td><td></td><td></td><td></td><td><a>#141:25</a></td><td><a>#122:0</a></td><td></td><td></td><td></td><td></td><td></td><td></td><td></td><td></td><td></td><td></td></tr>
<tr><td><a>#195:38</a></td><td><span class="lab lp cl">HasCustomer</span></td><td>1</td><td></td><td></td><td></td><td></td><td><a>#139:38</a></td><td><a>#122:0</a></td><td></td><td></td><td></td><td></td><td></td><td></td><td></td><td></td><td></td><td></td></tr>
<tr><td><a>#209:0</a></td><td><span class="lab lp cl">MadeReview</span></td><td>1</td><td></td><td></td><td></td><td></td><td><a>#122:0</a></td><td><a>#129:0</a></td><td></td><td></td><td></td><td></td><td></td><td></td><td></td><td></td><td></td><td></td></tr>
<tr><td><a>#215:7</a></td><td><span class="lab lp cl">MadeReview</span></td><td>1</td><td></td><td></td><td></td><td></td><td><a>#122:0</a></td><td><a>#135:7</a></td><td></td><td></td><td></td><td></td><td></td><td></td><td></td><td></td><td></td><td></td></tr>
<tr><td><a>#209:20</a></td><td><span class="lab lp cl">MadeReview</span></td><td>1</td><td></td><td></td><td></td><td></td><td><a>#122:0</a></td><td><a>#129:20</a></td><td></td><td></td><td></td><td></td><td></td><td></td><td></td><td></td><td></td><td></td></tr>
<tr><td><a>#216:39</a></td><td><span class="lab lp cl">MadeReview</span></td><td>1</td><td></td><td></td><td></td><td></td><td><a>#122:0</a></td><td><a>#136:39</a></td><td></td><td></td><td></td><td></td><td></td><td></td><td></td><td></td><td></td><td></td></tr>
</tbody>
<tfoot><tr><td colspan="19" class="pgr"><ul class="pg"><li>1</li><li>2</li><li>3</li><li>4</li><li>5</li><li>6</li><li>7</li></ul></td></tr>
<tr><td colspan="19" class="psr"></td></tr></tfoot>
</table>
  <div class="sep" style="left:438px"></div><div class="sep" style="left:1305px"></div><div class="sep" style="left:1738px"></div>
  <div class="ps" style="left:3107px;width:80px;background:#e0e0e0;color:#333;box-shadow:inset 0 4px 8px rgba(0,0,0,.1)">10</div>
  <div class="ps" style="left:3187px;width:75px">25</div>
  <div class="ps" style="left:3262px;width:77px">50</div>
  <div class="ps" style="left:3339px;width:92px">100</div>
  <div class="ps" style="left:3431px;width:109px">1000</div>
  <div class="ps" style="left:3540px;width:110px">5000</div>
 </div>
 <div id="ft">
  <div class="q">Query executed in 0.037 sec. Returned 136 record(s). Limit: 2000</div>
  <a class="c">(CHANGE IT)</a>
  <div id="tb">Table</div>
  <a id="raw">Raw</a>
 </div>
</div>
</body>
</html>
